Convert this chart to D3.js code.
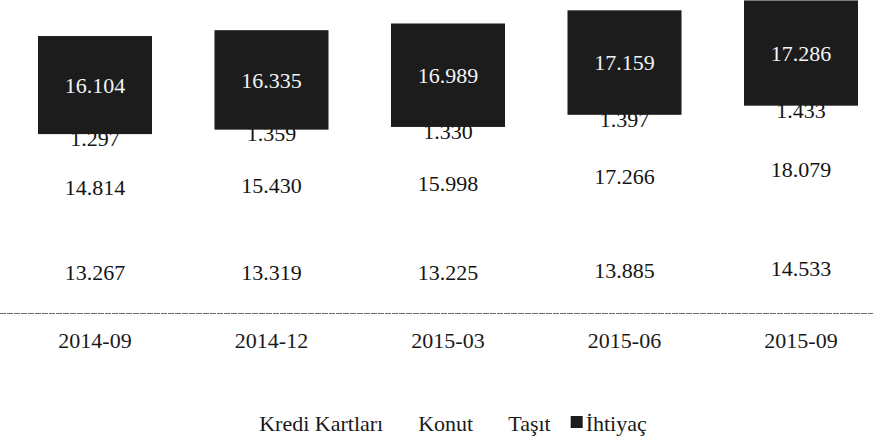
<!DOCTYPE html>
<html>
<head>
<meta charset="utf-8">
<script src="https://cdn.jsdelivr.net/npm/d3@7"></script>
<style>
  html, body { margin: 0; padding: 0; background: #ffffff; }
  svg { display: block; }
  svg text { font-family: "Liberation Serif", "DejaVu Serif", serif; }
</style>
</head>
<body>
<svg id="chart" width="873" height="441"></svg>
<script>
const periods = ["2014-09", "2014-12", "2015-03", "2015-06", "2015-09"];
const seriesNames = ["Kredi Kartları", "Konut", "Taşıt", "İhtiyaç"];
const krediKartlari = [13.267, 13.319, 13.225, 13.885, 14.533];
const konut = [14.814, 15.430, 15.998, 17.266, 18.079];
const tasit = [1.297, 1.359, 1.330, 1.397, 1.433];
const ihtiyac = [16.104, 16.335, 16.989, 17.159, 17.286];
const seriesValues = [krediKartlari, konut, tasit, ihtiyac];
const seriesColors = ["#ffffff", "#ffffff", "#ffffff", "#1c1c1c"];
const labelColors = ["#141414", "#141414", "#141414", "#f4f4f4"];

const rows = periods.map((p, i) => {
  const r = { period: p };
  seriesNames.forEach((s, k) => { r[s] = seriesValues[k][i]; });
  return r;
});
const stacked = d3.stack().keys(seriesNames)(rows);

const svg = d3.select("#chart");
const font = '"Liberation Serif", "DejaVu Serif", serif';
const fs = "22px";
const axisY = 313;

const x = d3.scaleBand().domain(periods).range([6.75, 889.25])
  .paddingInner(0.354).paddingOuter(0.177);
const y = d3.scaleLinear().domain([0, 51.4]).range([axisY, 0]);

const fmt = v => v.toFixed(3);

stacked.forEach((layer, k) => {
  const g = svg.append("g");
  g.selectAll("rect").data(layer).enter().append("rect")
    .attr("x", d => x(d.data.period))
    .attr("width", x.bandwidth())
    .attr("y", d => y(d[1]))
    .attr("height", d => y(d[0]) - y(d[1]))
    .attr("fill", seriesColors[k]);
  g.selectAll("text").data(layer).enter().append("text")
    .attr("x", d => x(d.data.period) + x.bandwidth() / 2)
    .attr("y", d => (y(d[0]) + y(d[1])) / 2)
    .attr("dy", "0.35em")
    .attr("text-anchor", "middle")
    .style("font-family", font)
    .style("font-size", fs)
    .attr("fill", labelColors[k])
    .text(d => fmt(d[1] - d[0]));
});

const xAxis = svg.append("g").attr("transform", `translate(0,${axisY})`)
  .call(d3.axisBottom(x).tickSize(0).tickPadding(19));
xAxis.select(".domain").remove();
xAxis.selectAll("text")
  .style("font-family", font)
  .style("font-size", fs)
  .attr("fill", "#1a1a1a");
svg.append("line")
  .attr("x1", 0).attr("x2", 873)
  .attr("y1", axisY + 0.5).attr("y2", axisY + 0.5)
  .attr("stroke", "#6e6e6e")
  .attr("stroke-width", 1)
  .attr("stroke-dasharray", "6,1");

const legend = svg.append("g");
const sq = 12, gapText = 3, gapItem = 20;
let cx = 0;
seriesNames.forEach((name, k) => {
  const it = legend.append("g");
  it.append("rect").attr("x", 0).attr("y", -sq / 2 - 1).attr("width", sq).attr("height", sq)
    .attr("fill", seriesColors[k]);
  const t = it.append("text")
    .attr("x", sq + gapText).attr("y", 0).attr("dy", "0.35em")
    .style("font-family", font).style("font-size", fs).attr("fill", "#1a1a1a")
    .text(name);
  const w = t.node().getComputedTextLength();
  it.attr("transform", `translate(${cx},0)`);
  cx += sq + gapText + w + gapItem;
});
const total = cx - gapItem;
legend.attr("transform", `translate(${445.5 - total / 2},423)`);
</script>
</body>
</html>
